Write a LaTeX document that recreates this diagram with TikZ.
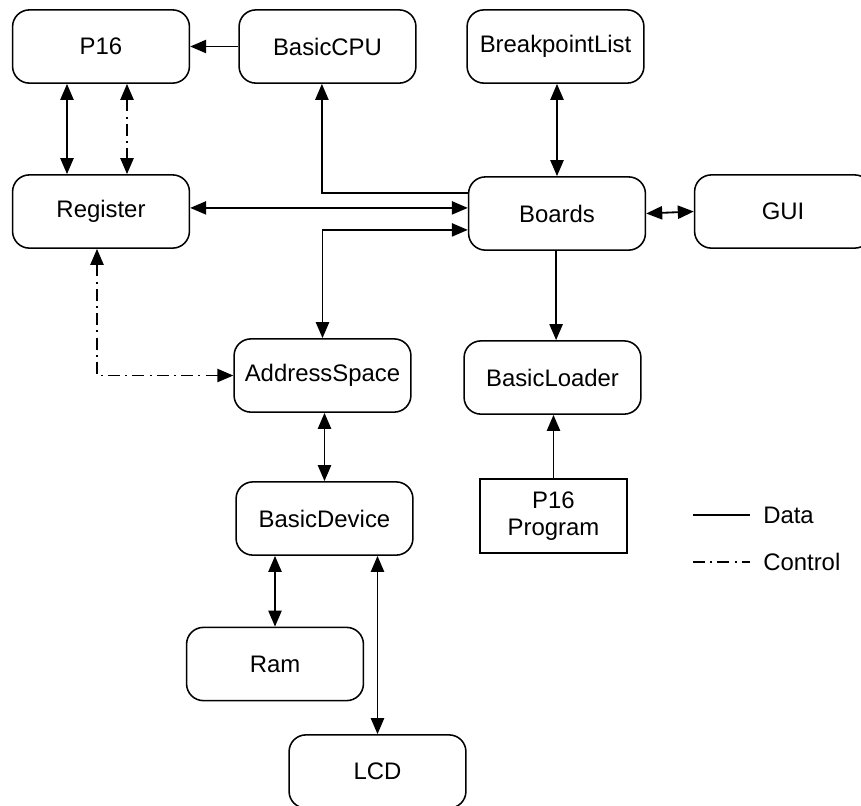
\documentclass[tikz,border=0pt]{standalone}
\usepackage{fontspec}
\setmainfont{Liberation Sans}
\usetikzlibrary{arrows.meta}

\begin{document}
\begin{tikzpicture}[x=0.025cm, y=-0.025cm,
  box/.style={draw, line width=1.1pt, rounded corners=0.42cm, minimum width=4.42cm, minimum height=1.83cm, inner sep=0pt, font=\fontsize{17}{19}\selectfont},
  progbox/.style={draw, line width=1.1pt, minimum width=3.68cm, minimum height=1.85cm, inner sep=0pt, align=center, font=\fontsize{17}{19}\selectfont},
  tip/.tip={Triangle[length=0.4cm, width=0.33cm]},
  data/.style={line width=1.3pt},
  ctrl/.style={line width=1.3pt, dash pattern=on 0.3cm off 0.13cm on 0.05cm off 0.13cm}]
  \clip (0,0) rectangle (861,805);
  \fill[white] (0,0) rectangle (861,805);
  % boxes
  \node[box] (p16) at (101,46.5) {P16};
  \node[box] (cpu) at (327.5,46.5) {BasicCPU};
  \node[box] (bpl) at (555.5,46.5) {BreakpointList};
  \node[box] (reg) at (101,211.5) {Register};
  \node[box] (boards) at (557,213.5) {Boards};
  \node[box] (gui) at (783,211.5) {GUI};
  \node[box] (addr) at (322.5,375.5) {AddressSpace};
  \node[box] (loader) at (552.5,377.5) {BasicLoader};
  \node[box] (device) at (324.5,518.5) {BasicDevice};
  \node[progbox] (prog) at (553.5,516) {P16\\Program};
  \node[box] (ram) at (275,664) {Ram};
  \node[box] (lcd) at (377.5,771.5) {LCD};
  % connectors
  \draw[data, -tip] (cpu.west) -- (p16.east);
  \draw[data, tip-tip] ([xshift=-0.85cm]p16.south) -- ([xshift=-0.85cm]reg.north);
  \draw[ctrl, tip-tip] ([xshift=0.65cm]p16.south) -- ([xshift=0.65cm]reg.north);
  \draw[data, -tip] ([yshift=0.51cm]boards.west) -| ([xshift=-0.14cm]cpu.south);
  \draw[data, tip-tip] ([yshift=0.14cm]boards.west -| reg.east) -- ([yshift=0.14cm]boards.west);
  \draw[data, tip-tip] ([yshift=-0.41cm]boards.west) -| (addr.north);
  \draw[ctrl, tip-tip] ([xshift=-0.1cm]reg.south) |- (addr.west);
  \draw[data, tip-tip] (bpl.south -| boards.north) -- (boards.north);
  \draw[data, tip-tip] (boards.east) -- (gui.west);
  \draw[data, -tip] ([xshift=0.09cm]boards.south -| loader.north) -- ([xshift=0.09cm]loader.north);
  \draw[data, -tip] (prog.north) -- (prog.north |- loader.south);
  \draw[data, tip-tip] (device.north |- addr.south) -- (device.north);
  \draw[data, tip-tip] (ram.north |- device.south) -- (ram.north);
  \draw[data, tip-tip] (lcd.north |- device.south) -- (lcd.north);
  % legend
  \coordinate (dataA) at (693,515);
  \coordinate (dataB) at (750,515);
  \coordinate (ctrlA) at (693,562);
  \coordinate (ctrlB) at (750,562);
  \draw[data] (dataA) -- (dataB);
  \draw[ctrl] (ctrlA) -- (ctrlB);
  \node[anchor=west, inner sep=0pt, font=\fontsize{17}{19}\selectfont] (datalbl) at (763,515) {Data};
  \node[anchor=west, inner sep=0pt, font=\fontsize{17}{19}\selectfont] (ctrllbl) at (763,562) {Control};
\end{tikzpicture}
\end{document}
